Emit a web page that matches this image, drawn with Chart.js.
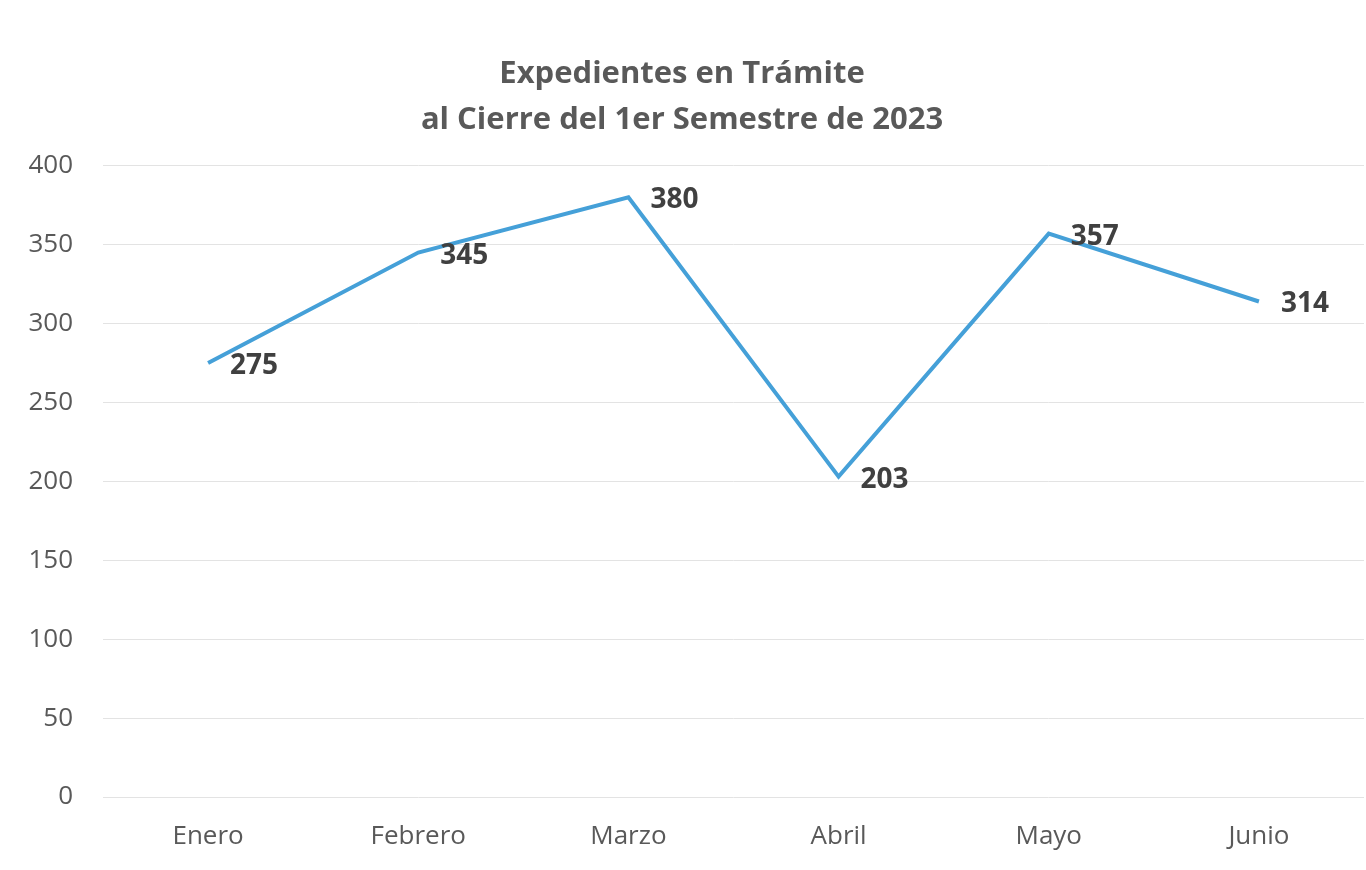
<!DOCTYPE html>
<html>
<head>
<meta charset="utf-8">
<script src="https://cdn.jsdelivr.net/npm/chart.js@4"></script>
<style>
  html, body { margin: 0; padding: 0; background: #fff; }
  #wrap { width: 1366px; height: 870px; }
</style>
</head>
<body>
<div id="wrap"><canvas id="chart" width="1366" height="870"></canvas></div>
<script>
const months = ['Enero', 'Febrero', 'Marzo', 'Abril', 'Mayo', 'Junio'];
const expedientes = [275, 345, 380, 203, 357, 314];
const titleLines = ['Expedientes en Trámite', 'al Cierre del 1er Semestre de 2023'];
const yTicks = [0, 50, 100, 150, 200, 250, 300, 350, 400];

const FONT = '"Open Sans", "Liberation Sans", sans-serif';

// value labels drawn to the right of each point
const valueLabels = {
  id: 'valueLabels',
  afterDatasetsDraw(chart) {
    const ctx = chart.ctx;
    const meta = chart.getDatasetMeta(0);
    ctx.save();
    ctx.font = 'bold 28px ' + FONT;
    ctx.fillStyle = '#404040';
    ctx.textAlign = 'left';
    ctx.textBaseline = 'middle';
    meta.data.forEach((pt, i) => {
      ctx.fillText(String(expedientes[i]), pt.x + 22, pt.y + 3);
    });
    ctx.restore();
  }
};

new Chart(document.getElementById('chart'), {
  type: 'line',
  data: {
    labels: months,
    datasets: [{
      data: expedientes,
      borderColor: '#45a0d8',
      borderWidth: 4,
      pointRadius: 0,
      tension: 0,
      fill: false
    }]
  },
  options: {
    responsive: false,
    animation: false,
    layout: { padding: { left: 0, right: 2, top: 0, bottom: 0 } },
    plugins: {
      legend: { display: false },
      tooltip: { enabled: false },
      title: {
        display: true,
        text: titleLines,
        color: '#595959',
        font: { family: FONT, size: 31, weight: 'bold', lineHeight: 1.48 },
        padding: { top: 51, bottom: 23 }
      }
    },
    scales: {
      x: {
        offset: true,
        grid: { display: false, drawTicks: false },
        border: { display: false },
        ticks: { color: '#595959', font: { family: FONT, size: 26 }, padding: 24 },
        afterFit(scale) { scale.height = 73; }
      },
      y: {
        min: 0,
        max: 400,
        afterBuildTicks(scale) { scale.ticks = yTicks.map(v => ({ value: v })); },
        grid: { color: '#e3e3e3', lineWidth: 1, drawTicks: false },
        border: { display: false },
        ticks: { color: '#595959', font: { family: FONT, size: 26 }, padding: 30 },
        afterFit(scale) { scale.width = 103; }
      }
    }
  },
  plugins: [valueLabels]
});
</script>
</body>
</html>
